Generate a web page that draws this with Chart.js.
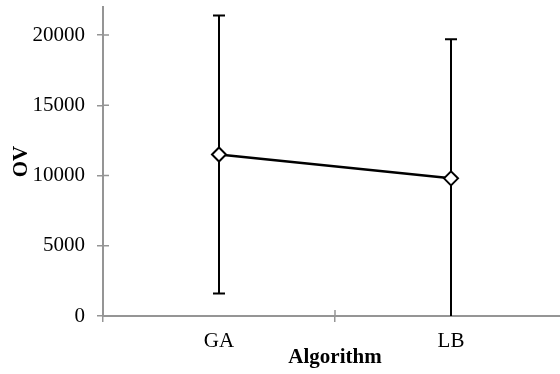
<!DOCTYPE html>
<html>
<head>
<meta charset="utf-8">
<script src="https://cdn.jsdelivr.net/npm/chart.js@4"></script>
<style>
  html, body { margin: 0; padding: 0; background: #fff; overflow: hidden; }
</style>
</head>
<body>
<canvas id="chart" width="570" height="374"></canvas>
<script>
// Values
const algorithms = ['GA', 'LB'];
const ovMeans = [11500, 9800];
const ovErrors = [9900, 9900];
const yTickValues = [0, 5000, 10000, 15000, 20000];

const axisGray = '#959595';
const font = { family: "'Liberation Serif', 'Times New Roman', serif", size: 21 };

// Symmetric error bars drawn under the markers
const errorBars = {
  id: 'errorBars',
  beforeDatasetsDraw(chart) {
    const { ctx, chartArea, scales } = chart;
    ctx.save();
    ctx.beginPath();
    ctx.rect(chartArea.left, chartArea.top, chartArea.right - chartArea.left, chartArea.bottom - chartArea.top);
    ctx.clip();
    ctx.strokeStyle = '#000';
    ctx.lineWidth = 2;
    ovMeans.forEach((m, i) => {
      const x = scales.x.getPixelForValue(i);
      const hi = scales.y.getPixelForValue(m + ovErrors[i]);
      const lo = scales.y.getPixelForValue(m - ovErrors[i]);
      ctx.beginPath();
      ctx.moveTo(x, hi);
      ctx.lineTo(x, lo);
      ctx.moveTo(x - 6, hi);
      ctx.lineTo(x + 6, hi);
      if (m - ovErrors[i] >= scales.y.min) {
        ctx.moveTo(x - 6, lo);
        ctx.lineTo(x + 6, lo);
      }
      ctx.stroke();
    });
    ctx.restore();
  }
};

// Tick marks that cross into the plot, as in the original
const innerTicks = {
  id: 'innerTicks',
  afterDraw(chart) {
    const { ctx, chartArea, scales } = chart;
    ctx.save();
    ctx.strokeStyle = axisGray;
    ctx.lineWidth = 1.5;
    ctx.beginPath();
    scales.y.ticks.forEach((t, i) => {
      const y = scales.y.getPixelForTick(i);
      ctx.moveTo(chartArea.left, y);
      ctx.lineTo(chartArea.left + 6, y);
    });
    const w = (scales.x.right - scales.x.left) / algorithms.length;
    for (let i = 1; i < algorithms.length; i++) {
      const x = scales.x.left + i * w;
      ctx.moveTo(x, chartArea.bottom);
      ctx.lineTo(x, chartArea.bottom - 6);
    }
    ctx.stroke();
    ctx.restore();
  }
};

new Chart(document.getElementById('chart'), {
  type: 'line',
  data: {
    labels: algorithms,
    datasets: [{
      label: 'OV',
      data: ovMeans,
      borderColor: '#000',
      borderWidth: 2.5,
      pointStyle: 'rectRot',
      pointRadius: 7,
      pointBorderWidth: 2,
      pointBackgroundColor: '#fff',
      pointBorderColor: '#000',
      tension: 0
    }]
  },
  options: {
    responsive: false,
    animation: false,
    layout: { autoPadding: false, padding: { top: 7, right: 3, left: 0, bottom: 0 } },
    plugins: {
      legend: { display: false },
      tooltip: { enabled: false }
    },
    scales: {
      x: {
        offset: true,
        grid: { offset: true, drawOnChartArea: false, drawTicks: true, tickLength: 6, color: axisGray, lineWidth: 1.5 },
        border: { color: axisGray, width: 2 },
        ticks: { color: '#000', font: font, padding: 7, maxRotation: 0 },
        title: { display: true, text: 'Algorithm', color: '#000', font: { ...font, weight: 'bold' }, padding: { top: 0, bottom: 4 } },
        afterFit(scale) {
          scale.height = 58;
          scale.paddingLeft = 0;
          scale.paddingRight = 0;
        }
      },
      y: {
        min: 0,
        max: 22000,
        afterBuildTicks(scale) {
          scale.ticks = yTickValues.map(v => ({ value: v }));
        },
        grid: { drawOnChartArea: false, drawTicks: true, tickLength: 6, color: axisGray, lineWidth: 1.5 },
        border: { color: axisGray, width: 2 },
        ticks: { color: '#000', font: font, padding: 12, callback: v => String(v) },
        title: { display: true, text: 'OV', color: '#000', font: { ...font, weight: 'bold' }, padding: { top: 9, bottom: 0 } },
        afterFit(scale) {
          scale.width = 103;
          scale.paddingTop = 0;
          scale.paddingBottom = 0;
        }
      }
    }
  },
  plugins: [errorBars, innerTicks]
});
</script>
</body>
</html>
